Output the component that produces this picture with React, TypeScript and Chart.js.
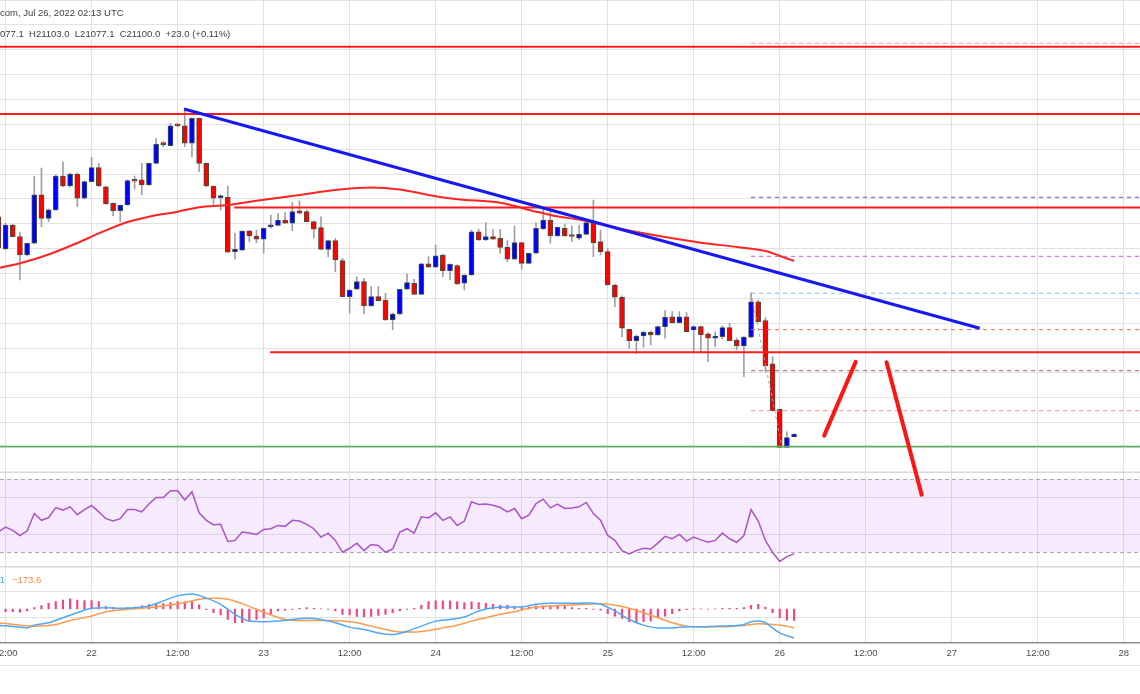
import React, { useEffect, useRef } from "react";
import { Chart, registerables } from "chart.js";

Chart.register(...registerables);

// Hours counted from Jul 21 2022 00:00 UTC, one candle per hour (BTC/USD 1h).
const FIRST_HOUR = 11;
const X_MIN = 11.22;
const X_MAX = 170.26;
const PRICE_MIN = 20790;
const PRICE_MAX = 24630;

const opens = [
  22868, 22606, 22801, 22706, 22557, 22652, 23045, 22855, 22923, 23199,
  23118, 23215, 23018, 23153, 23267, 23112, 22977, 22917, 22963, 23161,
  23167, 23126, 23302, 23459, 23446, 23611, 23606, 23465, 23668, 23302,
  23118, 23023, 23026, 22584, 22597, 22754, 22711, 22685, 22785, 22798,
  22841, 22815, 22915, 22909, 22828, 22779, 22603, 22673, 22511, 22218,
  22278, 22340, 22142, 22218, 22191, 22028, 22077, 22278, 22327, 22237,
  22484, 22457, 22557, 22429, 22470, 22327, 22394, 22746, 22679, 22706,
  22693, 22619, 22522, 22657, 22489, 22571, 22768, 22841, 22711, 22774,
  22715, 22693, 22725, 22815, 22665, 22584, 22313, 22213, 21953, 21860,
  21898, 21928, 21906, 21974, 22055, 22006, 22055, 21947, 21974, 21915,
  21880, 21893, 21966, 21866, 21817, 21888, 22177, 22023, 21671, 21302,
  20993, 21077.1,
];
const highs = [
  22882, 22817, 22809, 22744, 22654, 23199, 23264, 22931, 23207, 23315,
  23223, 23223, 23158, 23351, 23302, 23118, 22980, 22963, 23167, 23199,
  23302, 23305, 23506, 23478, 23628, 23622, 23750, 23671, 23671, 23305,
  23118, 23045, 23120, 22733, 22754, 22756, 22760, 22776, 22882, 22896,
  22901, 22982, 22998, 22923, 22833, 22868, 22679, 22693, 22530, 22276,
  22380, 22367, 22299, 22299, 22246, 22085, 22280, 22402, 22359, 22488,
  22543, 22638, 22565, 22484, 22476, 22398, 22760, 22768, 22820, 22766,
  22766, 22673, 22793, 22659, 22573, 22820, 22937, 22909, 22785, 22809,
  22793, 22801, 22825, 23004, 22760, 22606, 22321, 22224, 21955, 21906,
  21939, 21939, 21980, 22104, 22096, 22096, 22088, 21980, 21980, 21923,
  21933, 21980, 22002, 21882, 21898, 22250, 22191, 22045, 21730, 21305,
  21120, 21103.0,
];
const lows = [
  22598, 22598, 22703, 22354, 22549, 22646, 22787, 22828, 22919, 23110,
  23110, 22950, 23012, 23150, 23114, 22967, 22876, 22828, 22959, 23091,
  23045, 23122, 23301, 23437, 23443, 23598, 23437, 23356, 23234, 23110,
  22950, 22923, 22577, 22522, 22593, 22665, 22657, 22571, 22774, 22797,
  22813, 22754, 22890, 22825, 22693, 22602, 22543, 22421, 22215, 22083,
  22276, 22077, 22138, 22183, 22024, 21947, 22069, 22276, 22236, 22236,
  22455, 22455, 22380, 22354, 22317, 22272, 22390, 22675, 22675, 22683,
  22571, 22502, 22520, 22441, 22488, 22569, 22764, 22652, 22707, 22707,
  22665, 22679, 22724, 22543, 22557, 22309, 22137, 21893, 21798, 21752,
  21807, 21825, 21902, 21880, 22004, 22004, 21931, 21771, 21771, 21689,
  21811, 21874, 21858, 21785, 21567, 21886, 22012, 21606, 21289, 20992,
  20992, 21077.1,
];
const closes = [
  22614, 22801, 22706, 22557, 22652, 23045, 22855, 22923, 23199, 23118,
  23215, 23018, 23153, 23267, 23118, 22972, 22917, 22963, 23161, 23156,
  23126, 23302, 23457, 23454, 23606, 23606, 23465, 23668, 23302, 23118,
  23018, 23026, 22579, 22603, 22752, 22711, 22685, 22774, 22789, 22841,
  22815, 22909, 22896, 22828, 22766, 22603, 22673, 22516, 22218, 22272,
  22340, 22142, 22218, 22185, 22028, 22077, 22278, 22332, 22237, 22484,
  22457, 22549, 22429, 22481, 22321, 22394, 22746, 22679, 22706, 22685,
  22619, 22522, 22657, 22489, 22571, 22774, 22841, 22711, 22782, 22711,
  22707, 22725, 22820, 22657, 22584, 22313, 22213, 21961, 21860, 21898,
  21928, 21906, 21974, 22050, 22006, 22055, 21933, 21974, 21906, 21880,
  21898, 21966, 21860, 21817, 21888, 22177, 22015, 21654, 21291, 20993,
  21072, 21100.0,
];

// 100-period moving average
const maHours = [11, 14, 18, 22, 25, 29, 32, 36, 39, 43, 47, 53, 58, 63, 67, 71, 75, 81, 86, 88, 93, 99, 104, 109, 114, 118, 120, 122];
const maValues = [22451, 22489, 22561, 22654, 22732, 22825, 22868, 22909, 22945, 22963, 22998, 23045, 23085, 23106, 23089, 23045, 23010, 22982, 22909, 22882, 22833, 22756, 22703, 22657, 22622, 22590, 22551, 22508];

// RSI (same hours as the candles)
const rsiValues = [
  41.1, 43.8, 42.0, 39.2, 41.6, 51.2, 47.5, 49.0, 54.5, 53.0,
  54.9, 50.6, 53.4, 55.6, 52.1, 48.4, 47.1, 48.4, 53.4, 53.4,
  52.1, 56.4, 60.0, 60.0, 63.7, 63.7, 58.6, 63.2, 51.6, 47.5,
  45.1, 45.3, 35.9, 36.5, 41.1, 40.5, 39.8, 42.5, 42.9, 44.7,
  44.2, 47.5, 47.1, 45.3, 42.9, 38.3, 40.5, 36.5, 30.0, 32.2,
  35.0, 30.9, 34.3, 33.7, 30.0, 31.8, 41.1, 42.9, 40.5, 49.4,
  48.8, 51.6, 47.5, 49.4, 44.7, 47.1, 57.7, 56.2, 56.4, 55.8,
  54.5, 52.1, 54.0, 48.4, 50.3, 56.7, 59.1, 54.3, 56.4, 54.0,
  54.2, 54.9, 57.3, 51.2, 47.5, 39.2, 36.5, 30.9, 29.1, 30.9,
  32.2, 31.8, 35.0, 38.7, 37.4, 39.8, 36.1, 38.3, 36.8, 35.5,
  36.5, 40.5, 37.4, 35.5, 39.2, 53.4, 47.1, 36.5, 30.0, 25.0,
  27.6, 29.1,
];
const RSI_UPPER = 70;
const RSI_LOWER = 30;

// MACD
const macdHours = [11, 13, 15, 16, 18, 20, 22, 24, 26, 28, 30, 32, 34, 36, 38, 40, 42, 44, 46, 48, 50, 52, 54, 56, 58, 60, 62, 64, 66, 68, 70, 72, 74, 76, 78, 80, 82, 84, 86, 88, 91, 93, 95, 97, 99, 101, 103, 105, 107, 109, 111, 113, 115, 116, 117, 118, 119, 120, 122];
const macdValues = [-151, -160, -173, -148, -126, -80, -34, 6, 12, 6, 12, 28, 74, 120, 136, 99, 43, -49, -111, -117, -111, -96, -86, -96, -126, -166, -188, -219, -234, -203, -157, -111, -96, -74, -18, 12, 18, 18, 43, 52, 52, 55, 43, -18, -96, -148, -173, -173, -163, -163, -157, -154, -142, -117, -111, -126, -173, -219, -265];
const signalHours = [11, 14, 16, 19, 21, 24, 26, 29, 31, 34, 37, 39, 41, 43, 45, 47, 49, 51, 53, 55, 57, 59, 61, 63, 65, 67, 69, 71, 73, 75, 77, 79, 81, 83, 85, 87, 91, 93, 95, 97, 99, 101, 103, 105, 107, 109, 111, 113, 115, 117, 119, 121, 122];
const signalValues = [-126, -148, -157, -142, -105, -65, -25, -3, 6, 28, 59, 89, 99, 89, 49, -3, -55, -96, -105, -105, -105, -111, -126, -157, -188, -210, -210, -197, -173, -148, -111, -80, -49, -25, 6, 22, 37, 43, 49, 34, 6, -34, -80, -126, -157, -166, -163, -160, -151, -136, -142, -157, -174];
const HIST_START_HOUR = 12;
const histValues = [
  -24, -24, -30, -18, 12, 30, 52, 67, 82,
  92, 82, 76, 76, 67, 21, 12, 3, 12, 18,
  28, 40, 43, 49, 59, 68, 65, 68, 37, -6,
  -34, -55, -96, -126, -126, -111, -96, -80, -43, -18,
  -12, -3, 6, 12, 6, 1, -3, -18, -49, -55,
  -68, -71, -68, -59, -49, -34, -18, -3, 6, 34,
  68, 74, 74, 74, 65, 59, 65, 59, 52, 43,
  34, 34, 18, 12, 18, 28, 28, 28, 28, 28,
  12, 6, 6, -3, -12, -43, -65, -86, -117, -126,
  -117, -111, -74, -65, -43, -18, -6, 2, 2, -2,
  2, 6, 6, 6, 12, 34, 43, 18, -34, -80,
  -102, -105,
];

// Drawings
const levelPrices = [24250, 23703, 22943, 21766];
const levelStartHours = [0, 0, 43.9, 48.9];
const supportPrice = 21000;
const fibStartHour = 116;
const fibPrices = [24278, 23026, 22546, 22246, 21950, 21616, 21291, 20998];
const fibColors = ["#f29a9a", "#5a5ae0", "#c65ae6", "#7db9f2", "#f06262", "#a45a70", "#f28c8c", "#a8a8a8"];
const fibLegHours = [116, 120.3];
const fibLegPrices = [22250, 20998];
const trendHours = [36.9, 147.9];
const trendPrices = [23744, 21961];
const arrowUpHours = [126.2, 130.6];
const arrowUpPrices = [21088, 21689];
const arrowDownHours = [134.9, 139.8];
const arrowDownPrices = [21685, 20608];

const headerLine1 = "com, Jul 26, 2022 02:13 UTC";
const headerLine2 = "077.1  H21103.0  L21077.1  C21100.0  +23.0 (+0.11%)";
const macdLabel = "1";
const signalLabel = "\u2212173.6";

const GRID = "#e2e2e2";
const FONT = '"Liberation Sans", Arial, sans-serif';

const pts = (hs: number[], vs: number[]) => hs.map((h, i) => ({ x: h, y: vs[i] }));

function lineDs(data: any[], color: string, width: number, order: number, extra: any = {}) {
  return {
    type: "line",
    data,
    borderColor: color,
    backgroundColor: color,
    borderWidth: width,
    pointRadius: 0,
    fill: false,
    tension: 0,
    xAxisID: "x",
    yAxisID: "yP",
    order,
    ...extra,
  };
}

const overlayPlugin = {
  id: "overlay",
  beforeDatasetsDraw(chart: any) {
    const { ctx, chartArea } = chart;
    const yR = chart.scales.yR;
    const yM = chart.scales.yM;
    const t = yR.getPixelForValue(RSI_UPPER);
    const b = yR.getPixelForValue(RSI_LOWER);
    ctx.save();
    ctx.fillStyle = "rgba(178, 92, 235, 0.12)";
    ctx.fillRect(chartArea.left, t, chartArea.right - chartArea.left, b - t);
    ctx.strokeStyle = "#a9a9b3";
    ctx.lineWidth = 1;
    ctx.setLineDash([4, 3]);
    [t, b].forEach((y) => {
      ctx.beginPath();
      ctx.moveTo(chartArea.left, Math.round(y) + 0.5);
      ctx.lineTo(chartArea.right, Math.round(y) + 0.5);
      ctx.stroke();
    });
    ctx.setLineDash([]);
    ctx.strokeStyle = "#d8d8d8";
    ctx.lineWidth = 1.5;
    [yR.top, yM.top].forEach((y: number) => {
      ctx.beginPath();
      ctx.moveTo(chartArea.left, y);
      ctx.lineTo(chartArea.right, y);
      ctx.stroke();
    });
    ctx.restore();
  },
  afterDraw(chart: any) {
    const { ctx } = chart;
    ctx.save();
    ctx.strokeStyle = "#e6e6e6";
    ctx.lineWidth = 1;
    ctx.beginPath();
    ctx.moveTo(0, 665.5);
    ctx.lineTo(chart.width, 665.5);
    ctx.stroke();
    ctx.textBaseline = "middle";
    ctx.font = `9.5px ${FONT}`;
    ctx.fillStyle = "#3a3d46";
    ctx.textAlign = "left";
    ctx.fillText(headerLine1, 0, 13);
    ctx.fillText(headerLine2, 0, 34);
    ctx.font = `9.5px ${FONT}`;
    ctx.fillStyle = "#4ea8f3";
    ctx.textAlign = "right";
    ctx.fillText(macdLabel, 5, 580);
    ctx.fillStyle = "#ff8a3d";
    ctx.textAlign = "left";
    ctx.fillText(signalLabel, 12, 580);
    ctx.restore();
  },
};

export default function App() {
  const canvasRef = useRef<HTMLCanvasElement>(null);

  useEffect(() => {
    const canvas = canvasRef.current;
    if (!canvas) return;
    const hours = opens.map((_, i) => FIRST_HOUR + i);
    const bodyColors = closes.map((c, i) => (c >= opens[i] ? "#0000ff" : "#ff0000"));

    const datasets: any[] = [
      ...arrowLines(),
      lineDs(pts(trendHours, trendPrices), "#1818f0", 3, 1),
      ...levelPrices.map((p, i) => lineDs([{ x: levelStartHours[i], y: p }, { x: 180, y: p }], "#ff1c1c", 2, 2)),
      lineDs([{ x: 0, y: supportPrice }, { x: 180, y: supportPrice }], "#55b055", 1.5, 3),
      ...fibPrices.map((p, i) => lineDs([{ x: fibStartHour, y: p }, { x: 180, y: p }], fibColors[i], 1, 4, { borderDash: [4, 4] })),
      lineDs(pts(fibLegHours, fibLegPrices), "#a0a0a0", 1, 5, { borderDash: [3, 3] }),
      lineDs(pts(maHours, maValues), "#ff2424", 2, 6, { cubicInterpolationMode: "monotone" }),
      {
        type: "bar",
        data: hours.map((h, i) => ({ x: h, y: [opens[i], closes[i]] })),
        backgroundColor: bodyColors,
        borderColor: "#415241",
        borderWidth: 1,
        borderSkipped: false,
        barThickness: 5,
        minBarLength: 2,
        grouped: false,
        xAxisID: "x",
        yAxisID: "yP",
        order: 7,
      },
      {
        type: "bar",
        data: hours.map((h, i) => ({ x: h, y: [lows[i], highs[i]] })),
        backgroundColor: "#a0a0a0",
        borderWidth: 0,
        barThickness: 1,
        grouped: false,
        xAxisID: "x",
        yAxisID: "yP",
        order: 8,
      },
      lineDs(pts(hours, rsiValues), "#ad52c8", 1.5, 9, { yAxisID: "yR" }),
      lineDs(pts(macdHours, macdValues), "#4ea8f3", 1.5, 10, { yAxisID: "yM", cubicInterpolationMode: "monotone" }),
      lineDs(pts(signalHours, signalValues), "#ff9a4c", 1.5, 10, { yAxisID: "yM", cubicInterpolationMode: "monotone" }),
      {
        type: "bar",
        data: histValues.map((v, i) => ({ x: HIST_START_HOUR + i, y: v })),
        backgroundColor: "#f4437f",
        borderWidth: 0,
        barThickness: 1.5,
        grouped: false,
        xAxisID: "x",
        yAxisID: "yM",
        order: 11,
      },
    ];

    function arrowLines() {
      return [
        lineDs(pts(arrowUpHours, arrowUpPrices), "#ff1414", 4, 0, { borderCapStyle: "round" }),
        lineDs(pts(arrowDownHours, arrowDownPrices), "#ff1414", 4, 0, { borderCapStyle: "round", clip: false }),
      ];
    }

    const paneY = (weight: number, min: number, max: number, step: number) => ({
      type: "linear",
      position: "right",
      stack: "panes",
      stackWeight: weight,
      min,
      max,
      beginAtZero: false,
      grid: { color: GRID, lineWidth: 1, drawTicks: false },
      border: { display: false },
      ticks: { display: false, stepSize: step, includeBounds: false },
    });

    const chart = new Chart(canvas, {
      type: "bar",
      data: { datasets },
      options: {
        responsive: false,
        animation: false,
        devicePixelRatio: 1,
        events: [],
        layout: { padding: 0 },
        plugins: { legend: { display: false }, tooltip: { enabled: false }, title: { display: false } },
        scales: {
          x: {
            type: "linear",
            position: "bottom",
            min: X_MIN,
            max: X_MAX,
            offset: false,
            grid: { color: GRID, lineWidth: 1, drawTicks: false, offset: false },
            border: { display: true, color: "#8e8e8e", width: 1.5 },
            ticks: {
              stepSize: 12,
              includeBounds: false,
              autoSkip: false,
              maxRotation: 0,
              padding: 5,
              color: "#4a4d56",
              font: { family: FONT, size: 9.5 },
              callback: (v: any) => (Number(v) % 24 === 0 ? String(21 + Number(v) / 24) : "12:00"),
            },
            afterFit: (s: any) => {
              s.height = 51.7;
              s.paddingLeft = 0;
              s.paddingRight = 0;
            },
          },
          yP: paneY(472.3, PRICE_MIN, PRICE_MAX, 200),
          yR: paneY(94.4, 22.1, 73.8, 20),
          yM: paneY(75.6, -305, 387, 250),
        },
      } as any,
      plugins: [overlayPlugin as any],
    } as any);

    return () => chart.destroy();
  }, []);

  return (
    <div style={{ position: "fixed", left: 0, top: 0, width: 1140, height: 694, background: "#ffffff" }}>
      <canvas ref={canvasRef} width={1140} height={694} style={{ display: "block", width: 1140, height: 694 }} />
    </div>
  );
}
